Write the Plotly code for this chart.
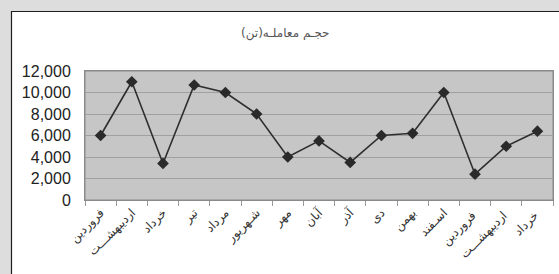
import plotly.graph_objects as go

months = ["فروردین", "اردیبهشـــت", "خرداد", "تیر", "مرداد", "شـهریور", "مهر", "آبان",
          "آذر", "دی", "بهمن", "اسـفند", "فروردین ", "اردیبهشـــت ", "خرداد "]
volume = [6000, 11000, 3400, 10700, 10000, 8000, 4000, 5500, 3500, 6000, 6200, 10000, 2400, 5000, 6400]
y_ticks = [0, 2000, 4000, 6000, 8000, 10000, 12000]
y_tick_text = ["0", "2,000", "4,000", "6,000", "8,000", "10,000", "12,000"]
title_text = "حجـم معاملـه(تن)"

fig = go.Figure()
fig.add_trace(go.Scatter(
    x=months, y=volume, mode="lines+markers",
    line=dict(color="#2e2e2e", width=1.6),
    marker=dict(symbol="diamond", size=9, color="#2a2a2a"),
    showlegend=False, hoverinfo="skip",
))

W, H = 559, 274
L, R, T, B = 85, 6, 71, 74
pw, ph = W - L - R, H - T - B

def px(x):
    return (x - L) / pw

def py(y):
    return 1 - (y - T) / ph

shapes = [
    dict(type="rect", xref="paper", yref="paper", x0=px(11.5), x1=px(W + 10), y0=py(11.5), y1=py(H + 10),
         fillcolor="white", line=dict(color="#1e1e1e", width=1.2), layer="below"),
    dict(type="rect", xref="paper", yref="paper", x0=0, x1=1, y0=0, y1=1,
         fillcolor="#c6c6c6", line=dict(color="#8a8a8a", width=1), layer="below"),
]

fig.update_layout(
    template="none",
    width=W, height=H,
    margin=dict(l=L, r=R, t=T, b=B, pad=0, autoexpand=False),
    paper_bgcolor="#dddddd",
    plot_bgcolor="#c6c6c6",
    shapes=shapes,
    annotations=[dict(text=title_text, xref="paper", yref="paper", x=px(285), y=py(34),
                      xanchor="center", yanchor="middle",
                      showarrow=False, font=dict(family="DejaVu Sans", size=12, color="#555555"))],
    font=dict(family="Liberation Sans, Arial", color="#222222"),
)
fig.update_xaxes(
    type="category", tickangle=-45, tickson="boundaries", ticks="outside", ticklen=5,
    tickcolor="#999999", tickfont=dict(size=12, family="DejaVu Sans", color="#333333"),
    showgrid=False, showline=True, linecolor="#8a8a8a", mirror=True, range=[-0.5, 14.5],
    automargin=False, zeroline=False,
)
fig.update_yaxes(
    range=[0, 12000], tickvals=y_ticks, ticktext=y_tick_text,
    tickfont=dict(size=16, color="#222222"), showgrid=True, gridcolor="#a0a0a0", gridwidth=1,
    showline=True, linecolor="#8a8a8a", mirror=True, zeroline=False, ticks="", ticklabelstandoff=10,
    automargin=False,
)
fig.write_html("out.html", config={"displayModeBar": False},
               post_script="document.body.style.margin='0';")
